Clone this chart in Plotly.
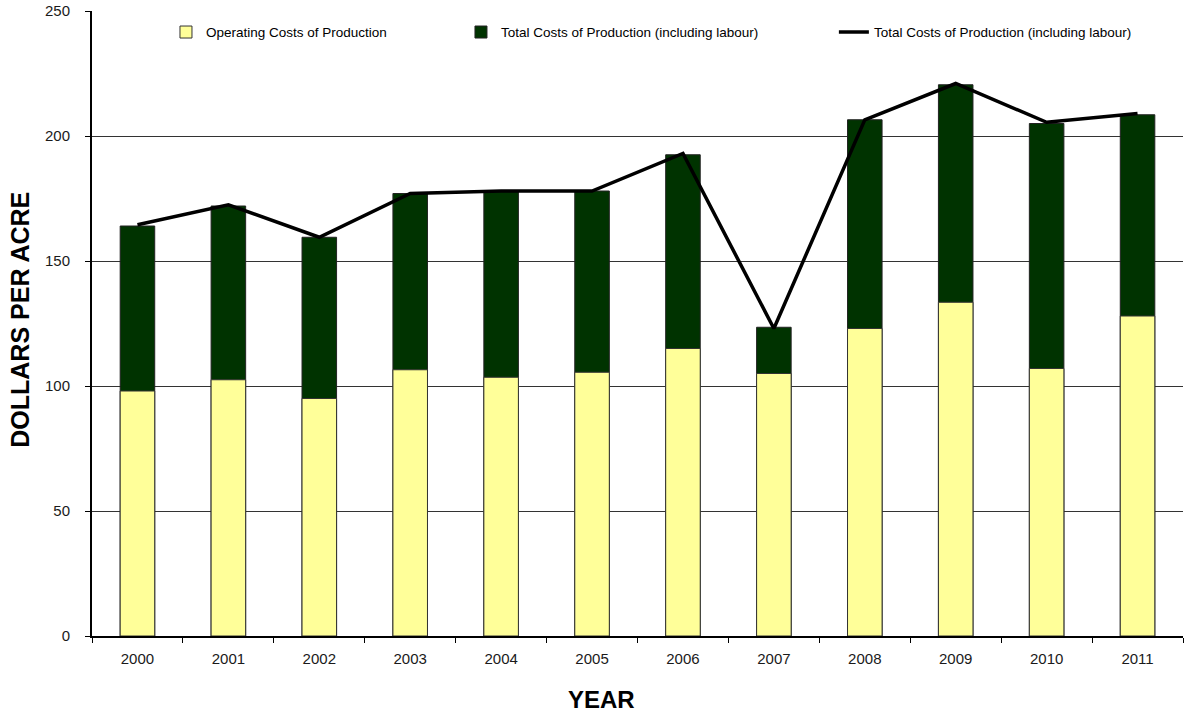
import plotly.graph_objects as go

# Per-acre production costs by year
years = ["2000", "2001", "2002", "2003", "2004", "2005",
         "2006", "2007", "2008", "2009", "2010", "2011"]
operating_costs = [98, 102.5, 95, 106.5, 103.5, 105.5, 115, 105, 123, 133.5, 107, 128]
total_costs = [164, 172, 159.5, 177, 178, 178, 192.5, 123.5, 206.5, 220.5, 205, 208.5]
total_costs_line = [164.5, 172.5, 159.5, 177, 178, 178, 193, 123, 206.5, 221, 205.5, 209]

FONT = "Liberation Sans, Arial, sans-serif"
YELLOW = "#FFFF99"
DARK_GREEN = "#003300"

fig = go.Figure()

# Full-height total bars, with operating costs overlaid from the baseline
fig.add_trace(go.Bar(
    x=years, y=total_costs,
    name="Total Costs of Production (including labour)",
    marker=dict(color=DARK_GREEN, line=dict(color="#222222", width=1)),
    width=0.38, legend="legend2", showlegend=True,
))
fig.add_trace(go.Bar(
    x=years, y=operating_costs,
    name="Operating Costs of Production",
    marker=dict(color=YELLOW, line=dict(color="#333333", width=1)),
    width=0.38, legend="legend", showlegend=True,
))
fig.add_trace(go.Scatter(
    x=years, y=total_costs_line, mode="lines",
    name="Total Costs of Production (including labour)",
    line=dict(color="black", width=3.5),
    legend="legend3", showlegend=True,
))

legend_style = dict(
    orientation="h", xanchor="left", yanchor="middle",
    bgcolor="rgba(0,0,0,0)", font=dict(family=FONT, size=13.5, color="black"),
    itemwidth=30, visible=True,
)

fig.update_layout(
    width=1190, height=715,
    margin=dict(l=92, r=7, t=11, b=79, autoexpand=False),
    paper_bgcolor="white", plot_bgcolor="white",
    barmode="overlay",
    showlegend=True,
    font=dict(family=FONT, size=15, color="#222222"),
    legend=dict(x=0.0678, y=0.966, **legend_style),
    legend2=dict(x=0.3382, y=0.966, **legend_style),
    legend3=dict(x=0.680, y=0.966, **legend_style),
    xaxis=dict(
        type="category", automargin=False,
        showline=True, linecolor="black", linewidth=2,
        ticks="outside", tickson="boundaries", ticklen=5, tickcolor="black",
        tickfont=dict(family=FONT, size=15, color="#1a1a1a"),
        ticklabelstandoff=8,
        showgrid=False,
    ),
    yaxis=dict(
        range=[0, 250], dtick=50, automargin=False,
        showline=True, linecolor="black", linewidth=2,
        ticks="outside", ticklen=5, tickcolor="black",
        tickfont=dict(family=FONT, size=15, color="#1a1a1a"),
        ticklabelstandoff=12,
        showgrid=True, gridcolor="#333333", gridwidth=1,
        zeroline=False,
    ),
    annotations=[
        dict(
            text="<b>DOLLARS PER ACRE</b>", xref="paper", yref="paper",
            x=-0.066, y=0.506, xanchor="center", yanchor="middle",
            textangle=-90, showarrow=False,
            font=dict(family=FONT, size=25, color="black"),
        ),
        dict(
            text="<b>YEAR</b>", xref="paper", yref="paper", x=0.467, y=-0.102,
            xanchor="center", yanchor="middle", showarrow=False,
            font=dict(family=FONT, size=24, color="black"),
        ),
    ],
)

fig.write_html("out.html")
